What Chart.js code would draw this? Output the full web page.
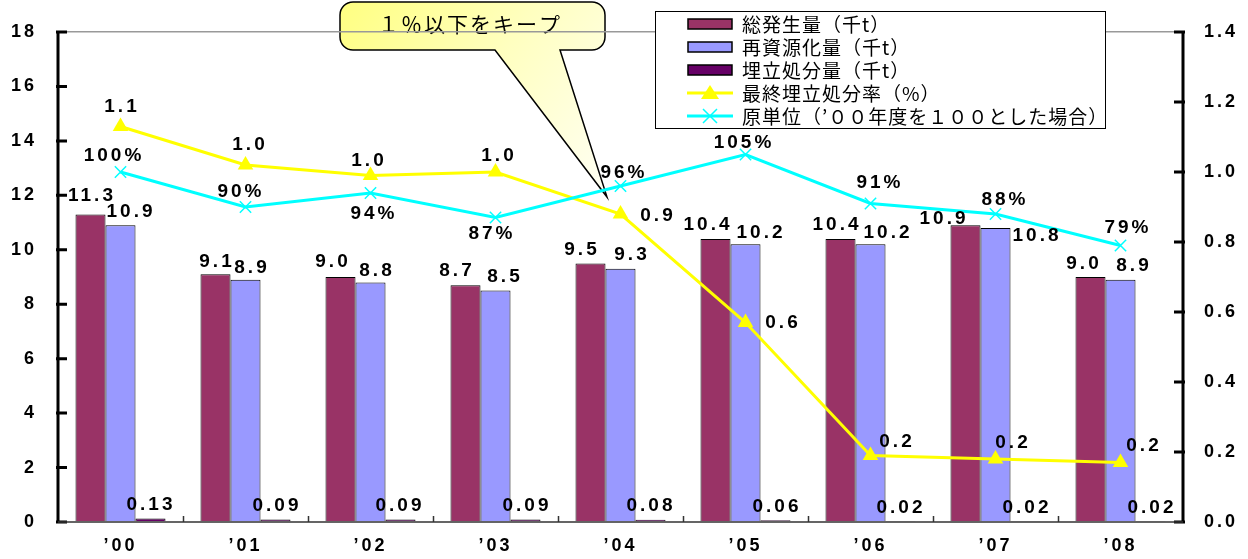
<!DOCTYPE html>
<html lang="ja">
<head>
<meta charset="utf-8">
<script src="https://cdn.jsdelivr.net/npm/chart.js@4/dist/chart.umd.min.js"></script>
<style>
  html, body { margin: 0; padding: 0; background: #fff; }
  #wrap { width: 1248px; height: 559px; }
</style>
</head>
<body>
<div id="wrap"><canvas id="wasteChart"></canvas></div>
<script>
// 年度
const years = ['’00', '’01', '’02', '’03', '’04', '’05', '’06', '’07', '’08'];

// 量 (千t)
const totalGen = [11.3, 9.1, 9.0, 8.7, 9.5, 10.4, 10.4, 10.9, 9.0];
const recycled = [10.9, 8.9, 8.8, 8.5, 9.3, 10.2, 10.2, 10.8, 8.9];
const landfill = [0.13, 0.09, 0.09, 0.09, 0.08, 0.06, 0.02, 0.02, 0.02];

// 最終埋立処分率 (%) と 原単位 ('00年度 = 100)
const landfillRate = [1.13, 1.02, 0.99, 1.00, 0.88, 0.57, 0.19, 0.18, 0.17];
const unitIndex = [100, 90, 94, 87, 96, 105, 91, 88, 79];

// 軸目盛
const leftMax = 18, leftStep = 2;
const rightMax = 1.4, rightStep = 0.2;

const legendNames = ['総発生量（千t）', '再資源化量（千t）', '埋立処分量（千t）', '最終埋立処分率（%）', '原単位（’００年度を１００とした場合）'];
const calloutText = '１％以下をキープ';

// データラベルのずらし量 (px)
const labelShift = [
  { dx: [0, 0, -9, -10, -10, -9, -5, -23, -8], dy: [-19, -13, -15, -14, -14, -14, -14, -7, -13] },
  { dx: [9, 5, 5, 8, 10, 14, 16, 40, 12], dy: [-14, -12, -12, -14, -14, -12, -12, 8, -14] },
  { dx: [-1, 0, -2, 0, -1, 0, -1, 0, 0], dy: [-14, -14, -14, -14, -14, -14, -14, -14, -14] },
  { dx: [0, 3, -3, 2, 36, 36, 25, 16, 22], dy: [-20, -20, -15, -16, 2, 0, -14, -16, -17] },
  { dx: [-8, -6, 2, -5, 2, -3, 8, 8, 6], dy: [-16, -15, 21, 16, -13, -12, -21, -14, -18] }
];
const labelFormat = [
  v => v.toFixed(1),
  v => v.toFixed(1),
  v => v.toFixed(2),
  v => v.toFixed(1),
  v => Math.round(v * 100) + '%'
];

const numFont = '"Liberation Sans", Arial, sans-serif';
const jpFont = '"Noto Sans CJK JP", sans-serif';

// 吹き出し
const calloutPlugin = {
  id: 'callout',
  beforeDraw(chart) {
    const c = chart.ctx;
    c.letterSpacing = '3px';
    c.save();
    const l = 340, r = 605, t = 2, b = 50, rad = 13;
    const tailL = 495, tailR = 560, tipX = 607, tipY = 197;
    c.beginPath();
    c.moveTo(l + rad, t);
    c.lineTo(r - rad, t);
    c.arcTo(r, t, r, t + rad, rad);
    c.lineTo(r, b - rad);
    c.arcTo(r, b, r - rad, b, rad);
    c.lineTo(tailR, b);
    c.lineTo(tipX, tipY);
    c.lineTo(tailL, b);
    c.lineTo(l + rad, b);
    c.arcTo(l, b, l, b - rad, rad);
    c.lineTo(l, t + rad);
    c.arcTo(l, t, l + rad, t, rad);
    c.closePath();
    const g = c.createLinearGradient(340, 0, 640, 210);
    g.addColorStop(0, '#ffff80');
    g.addColorStop(0.45, '#ffffc0');
    g.addColorStop(1, '#ffffff');
    c.fillStyle = g;
    c.fill();
    c.lineWidth = 1.5;
    c.strokeStyle = '#000';
    c.stroke();
    c.font = '21px ' + jpFont;
    c.letterSpacing = '2px';
    c.fillStyle = '#000';
    c.textAlign = 'center';
    c.textBaseline = 'middle';
    c.fillText(calloutText, 470, 24);
    c.restore();
  }
};

// 軸線・内向き目盛・データラベル・凡例
const decorPlugin = {
  id: 'decor',
  afterDatasetsDraw(chart) {
    const c = chart.ctx;
    const a = chart.chartArea;
    const yL = chart.scales.y, yR = chart.scales.y1;
    c.save();
    c.strokeStyle = '#000';
    c.lineWidth = 3;
    c.beginPath();
    c.moveTo(a.left, a.top - 1); c.lineTo(a.left, a.bottom + 1);
    c.moveTo(a.right, a.top - 1); c.lineTo(a.right, a.bottom + 1);
    yL.ticks.forEach(tk => {
      const y = yL.getPixelForValue(tk.value);
      c.moveTo(a.left - 2, y); c.lineTo(a.left + 9, y);
    });
    yR.ticks.forEach(tk => {
      const y = yR.getPixelForValue(tk.value);
      c.moveTo(a.right + 2, y); c.lineTo(a.right - 9, y);
    });
    c.stroke();

    c.lineWidth = 1.5;
    c.strokeStyle = '#333';
    c.beginPath();
    c.moveTo(a.left, a.bottom); c.lineTo(a.right, a.bottom);
    const step = (a.right - a.left) / years.length;
    for (let i = 1; i < years.length; i++) {
      const x = Math.round(a.left + step * i) + 0.5;
      c.moveTo(x, a.bottom - 6); c.lineTo(x, a.bottom);
    }
    c.stroke();

    // データラベル
    c.font = 'bold 19px ' + numFont;
    c.letterSpacing = '3px';
    c.fillStyle = '#000';
    c.textAlign = 'center';
    c.textBaseline = 'middle';
    chart.data.datasets.forEach((ds, i) => {
      const meta = chart.getDatasetMeta(i);
      meta.data.forEach((el, j) => {
        const txt = labelFormat[i](ds.data[j]);
        c.fillText(txt, el.x + labelShift[i].dx[j] + 1.5, el.y + labelShift[i].dy[j]);
      });
    });

    // 凡例
    c.lineWidth = 1;
    c.strokeStyle = '#000';
    c.fillStyle = '#fff';
    c.fillRect(655, 11, 450, 117);
    c.strokeRect(655.5, 11.5, 450, 117);
    const rows = [24, 47, 70, 93, 116];
    chart.data.datasets.forEach((ds, i) => {
      const y = rows[i];
      if (ds.type === 'line') {
        c.strokeStyle = ds.borderColor;
        c.lineWidth = 3;
        c.beginPath();
        c.moveTo(687, y); c.lineTo(733, y);
        c.stroke();
        c.fillStyle = ds.borderColor;
        c.lineWidth = 1.5;
        c.beginPath();
        if (ds.pointStyle === 'triangle') {
          c.moveTo(710, y - 8); c.lineTo(719, y + 6); c.lineTo(701, y + 6); c.closePath();
          c.fill();
        } else {
          c.moveTo(703, y - 7); c.lineTo(717, y + 7);
          c.moveTo(717, y - 7); c.lineTo(703, y + 7);
          c.stroke();
        }
      } else {
        c.fillStyle = ds.backgroundColor;
        c.fillRect(688, y - 5, 44, 10);
        c.strokeStyle = '#000';
        c.lineWidth = 1.5;
        c.strokeRect(688, y - 5, 44, 10);
      }
      c.fillStyle = '#000';
      c.font = '19px ' + jpFont;
      c.letterSpacing = '1px';
      c.textAlign = 'left';
      c.fillText(ds.label, 742, y + 1);
    });
    c.restore();
  }
};

const tickFont = { family: numFont, size: 18, weight: 'bold' };

const ctx = document.getElementById('wasteChart').getContext('2d');
const wasteChart = new Chart(ctx, {
  data: {
    labels: years,
    datasets: [
      { type: 'bar', label: legendNames[0], data: totalGen, backgroundColor: '#993366', borderColor: '#000', borderWidth: 1, yAxisID: 'y', order: 2 },
      { type: 'bar', label: legendNames[1], data: recycled, backgroundColor: '#9999ff', borderColor: '#000', borderWidth: 1, yAxisID: 'y', order: 2 },
      { type: 'bar', label: legendNames[2], data: landfill, backgroundColor: '#660066', borderColor: '#000', borderWidth: 1, yAxisID: 'y', order: 2 },
      {
        type: 'line', label: legendNames[3], data: landfillRate, yAxisID: 'y1', order: 1,
        borderColor: '#ffff00', backgroundColor: '#ffff00', borderWidth: 3,
        pointStyle: 'triangle', pointRadius: 9, pointBorderWidth: 0, tension: 0
      },
      {
        type: 'line', label: legendNames[4], data: unitIndex.map(v => v / 100), yAxisID: 'y1', order: 0,
        borderColor: '#00ffff', backgroundColor: '#00ffff', borderWidth: 3,
        pointStyle: 'crossRot', pointRadius: 8, pointBorderWidth: 1.5, tension: 0
      }
    ]
  },
  options: {
    responsive: true,
    maintainAspectRatio: false,
    animation: false,
    layout: { padding: { top: 32, left: 0, right: 0, bottom: 0 } },
    datasets: { bar: { categoryPercentage: 0.72, barPercentage: 1.0 } },
    plugins: { legend: { display: false }, tooltip: { enabled: false } },
    scales: {
      x: {
        grid: { display: false, drawTicks: false },
        border: { display: false },
        ticks: { color: '#000', font: tickFont, padding: 13, maxRotation: 0 },
        afterFit: s => { s.height = 37; }
      },
      y: {
        position: 'left',
        min: 0, max: leftMax,
        grid: {
          drawTicks: false,
          color: c => c.tick && c.tick.value === leftMax ? '#999' : 'rgba(0,0,0,0)',
          lineWidth: 1.5
        },
        border: { display: false },
        ticks: { stepSize: leftStep, color: '#000', font: tickFont, padding: 21 },
        afterFit: s => { s.width = 58; }
      },
      y1: {
        position: 'right',
        min: 0, max: rightMax,
        grid: { display: false, drawTicks: false },
        border: { display: false },
        ticks: {
          stepSize: rightStep, color: '#000', font: tickFont, padding: 21,
          callback: v => Number(v).toFixed(1)
        },
        afterFit: s => { s.width = 65; }
      }
    }
  },
  plugins: [calloutPlugin, decorPlugin]
});
</script>
</body>
</html>
